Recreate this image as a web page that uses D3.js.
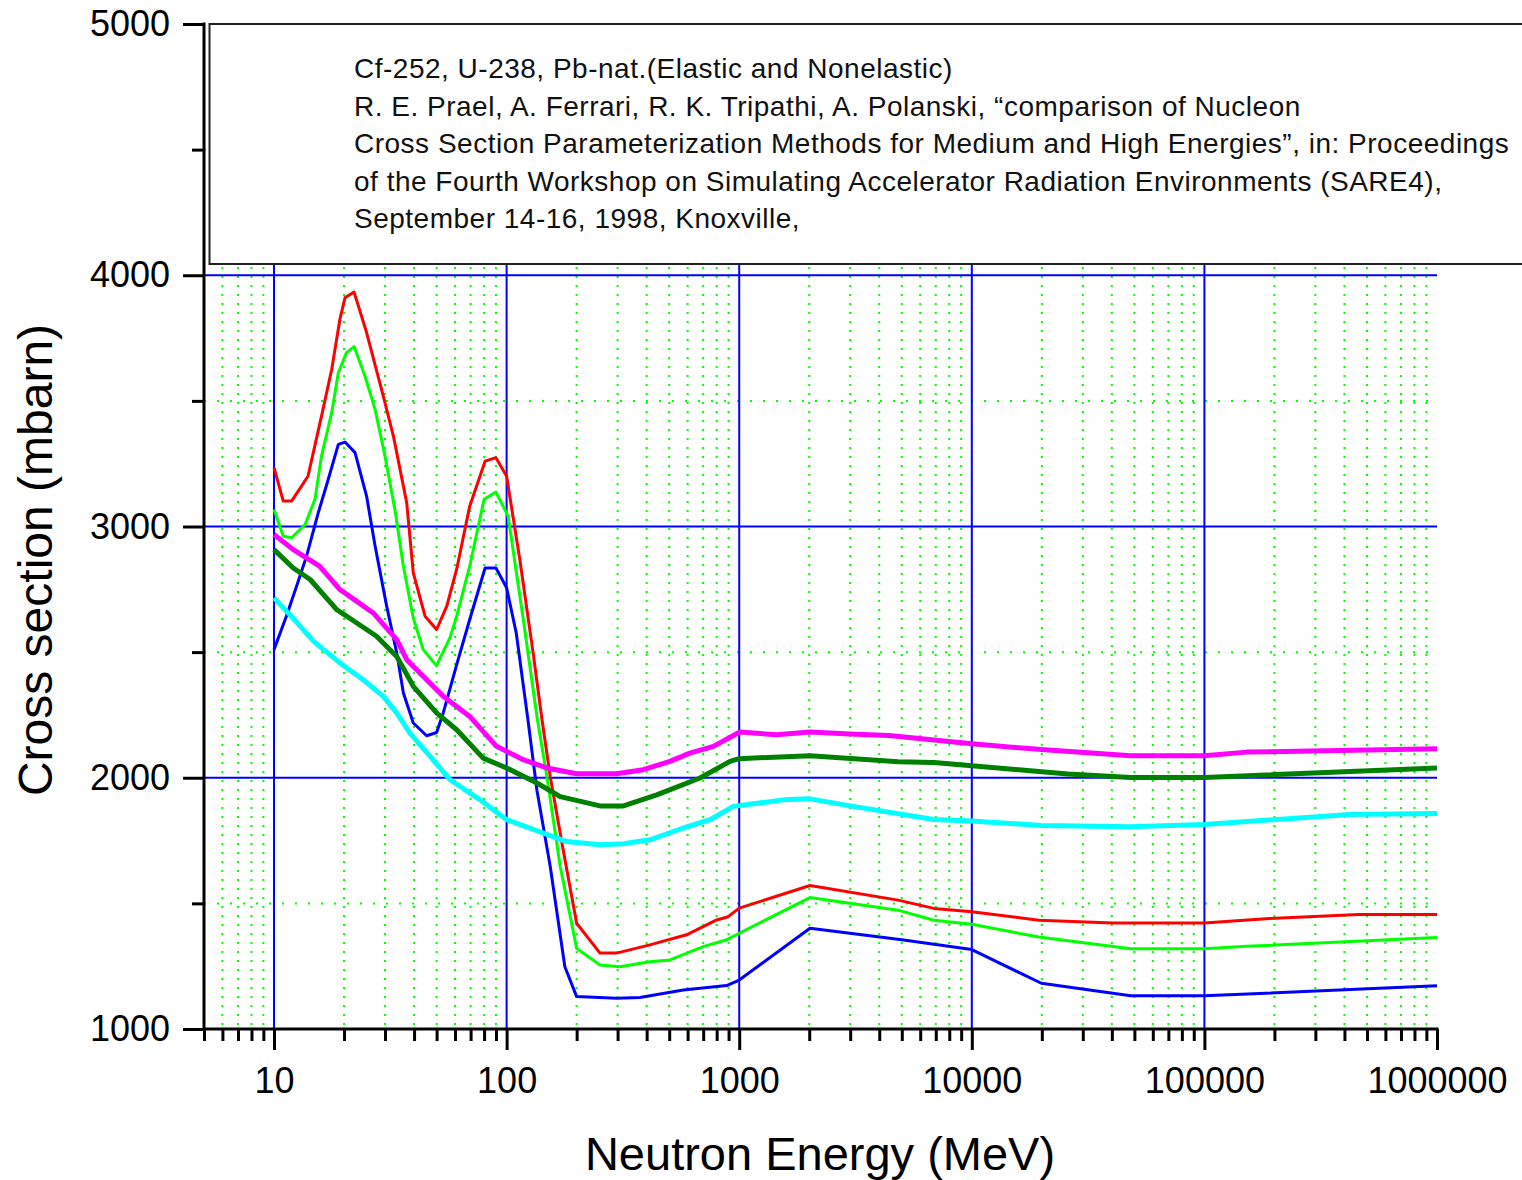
<!DOCTYPE html>
<html>
<head>
<meta charset="utf-8">
<script src="https://cdn.jsdelivr.net/npm/d3@7"></script>
<style>
    body { margin: 0; background: #fff; }
    svg { display: block; font-family: "Liberation Sans", Arial, sans-serif; }
</style>
</head>
<body>
<svg id="chart" width="1522" height="1180"></svg>
<script>
// [energy MeV, cross section mbarn]
const cf252Elastic = [[10, 3234], [10.96, 3101], [11.9, 3101], [14, 3200], [16, 3439], [17.7, 3625], [19.2, 3825], [20.2, 3911], [22.1, 3933], [25, 3772], [29.5, 3519], [32.6, 3360], [37.2, 3094], [39.7, 2815], [44.6, 2643], [50, 2590], [55.3, 2683], [61, 2830], [69.4, 3081], [80.8, 3260], [90, 3274], [100, 3200], [114, 2868], [130, 2497], [142, 2231], [154, 2005], [175, 1713], [200, 1421], [252, 1302], [297, 1302], [413, 1335], [594, 1375], [800, 1434], [897, 1447], [1000, 1481], [2015, 1571], [4820, 1513], [6870, 1480], [10000, 1467], [19400, 1433], [40400, 1422], [100000, 1422], [190000, 1440], [460000, 1456], [1000000, 1456]];
const u238Elastic = [[10, 3068], [10.96, 2961], [11.9, 2955], [13.6, 3008], [15, 3108], [16, 3280], [17.7, 3453], [18.9, 3612], [20.5, 3692], [22.1, 3716], [24.6, 3599], [27.2, 3466], [30, 3280], [33.1, 3068], [36, 2842], [39.7, 2635], [43.8, 2510], [50, 2446], [57.2, 2560], [61, 2643], [69.4, 2842], [80, 3108], [90, 3137], [101.5, 3041], [118, 2629], [135, 2244], [149, 2005], [170, 1647], [200, 1321], [252, 1255], [307, 1248], [413, 1268], [504, 1275], [701, 1328], [883, 1355], [1000, 1381], [2015, 1523], [4820, 1473], [6870, 1433], [10000, 1417], [19400, 1366], [48200, 1319], [100000, 1319], [152000, 1329], [1000000, 1364]];
const pbElastic = [[10, 2510], [11.3, 2643], [12.5, 2762], [13.8, 2882], [15.5, 3055], [17.1, 3187], [18.9, 3327], [20.2, 3336], [22.3, 3294], [25, 3121], [27.2, 2922], [30.5, 2683], [33.7, 2497], [36, 2337], [39.7, 2218], [45.3, 2167], [50, 2180], [53.4, 2258], [61, 2450], [69.4, 2630], [80.8, 2835], [90, 2835], [100, 2756], [110, 2576], [123.5, 2231], [135, 1950], [154, 1647], [178, 1248], [200, 1129], [297, 1122], [374, 1125], [575, 1155], [883, 1173], [1000, 1195], [2015, 1401], [5000, 1355], [10000, 1316], [19900, 1182], [48200, 1132], [100000, 1132], [1000000, 1172]];
const cf252Nonelastic = [[10, 2968], [12.1, 2908], [15.7, 2842], [19.2, 2749], [22.7, 2702], [26.7, 2656], [33.7, 2550], [37.2, 2470], [53.4, 2324], [69.4, 2244], [90.5, 2125], [118, 2072], [149, 2039], [200, 2016], [297, 2016], [387, 2032], [504, 2065], [614, 2098], [774, 2125], [1007, 2182], [1448, 2171], [2015, 2182], [2994, 2174], [4400, 2168], [10000, 2135], [19900, 2112], [48200, 2088], [100000, 2088], [152000, 2102], [1000000, 2115]];
const u238Nonelastic = [[10, 2908], [12.1, 2835], [14.3, 2789], [18.6, 2669], [22.7, 2616], [27.6, 2563], [33.7, 2483], [39.7, 2364], [50, 2258], [61, 2191], [79.3, 2078], [100, 2039], [135, 1979], [170, 1925], [252, 1888], [318, 1888], [442, 1932], [679, 1999], [913, 2065], [1000, 2076], [2015, 2088], [4820, 2064], [6870, 2061], [10000, 2048], [25900, 2015], [48200, 2001], [100000, 2001], [1000000, 2039]];
const pbNonelastic = [[10, 2716], [11.7, 2649], [14.8, 2543], [19.2, 2457], [24.2, 2390], [29.5, 2324], [33.7, 2258], [38.4, 2178], [46.9, 2085], [57.2, 1992], [76.9, 1912], [100, 1833], [144, 1780], [181, 1746], [252, 1733], [318, 1737], [413, 1753], [575, 1800], [749, 1833], [944, 1886], [1549, 1912], [2015, 1916], [2994, 1888], [6870, 1834], [10000, 1828], [19900, 1810], [48200, 1805], [100000, 1814], [422000, 1854], [1000000, 1858]];

const xMajorTicks = [10, 100, 1000, 10000, 100000, 1000000];
const yMajorTicks = [1000, 2000, 3000, 4000, 5000];
const yMinorTicks = [1500, 2500, 3500, 4500];

const noteLines = [
    "Cf-252, U-238, Pb-nat.(Elastic and Nonelastic)",
    "R. E. Prael, A. Ferrari, R. K. Tripathi, A. Polanski, \u201ccomparison of Nucleon",
    "Cross Section Parameterization Methods for Medium and High Energies\u201d, in: Proceedings",
    "of the Fourth Workshop on Simulating Accelerator Radiation Environments (SARE4),",
    "September 14-16, 1998, Knoxville,"
];

let series = [
    {data: cf252Elastic, color: "#ff0000", width: 3},
    {data: u238Elastic, color: "#00ff00", width: 3},
    {data: pbElastic, color: "#0000ff", width: 3},
    {data: cf252Nonelastic, color: "#ff00ff", width: 5},
    {data: u238Nonelastic, color: "#008000", width: 5},
    {data: pbNonelastic, color: "#00ffff", width: 5}
];

let plotLeft = 204, plotRight = 1437, plotTop = 24, plotBottom = 1029;

let x = d3.scaleLog().domain([5, 1e6]).range([plotLeft, plotRight]);
let y = d3.scaleLinear().domain([1000, 5000]).range([plotBottom, plotTop]);

// minor ticks: 2..9 times every decade inside the domain
let xMinorTicks = [];
for (let d = 1; d <= 1e5; d *= 10)
    for (let k = 2; k <= 9; k++)
        if (k * d >= 5) xMinorTicks.push(k * d);

let svg = d3.select("#chart");

// grid
let grid = svg.append("g");
grid.append("g").selectAll("line").data(xMinorTicks).join("line")
    .attr("x1", d => x(d)).attr("x2", d => x(d))
    .attr("y1", plotTop).attr("y2", plotBottom)
    .attr("stroke", "#00ff00").attr("stroke-width", 2).attr("stroke-dasharray", "2,7");
grid.append("g").selectAll("line").data(yMinorTicks).join("line")
    .attr("x1", plotLeft).attr("x2", plotRight)
    .attr("y1", d => y(d)).attr("y2", d => y(d))
    .attr("stroke", "#00ff00").attr("stroke-width", 2).attr("stroke-dasharray", "2,11");
grid.append("g").selectAll("line").data(xMajorTicks.slice(0, -1)).join("line")
    .attr("x1", d => x(d)).attr("x2", d => x(d))
    .attr("y1", plotTop).attr("y2", plotBottom)
    .attr("stroke", "#0000ff").attr("stroke-width", 2);
grid.append("g").selectAll("line").data(yMajorTicks.slice(1, -1)).join("line")
    .attr("x1", plotLeft).attr("x2", plotRight)
    .attr("y1", d => y(d)).attr("y2", d => y(d))
    .attr("stroke", "#0000ff").attr("stroke-width", 2);

// note box
svg.append("rect")
    .attr("x", 209.5).attr("y", 24).attr("width", 1340).attr("height", 240)
    .attr("fill", "#fff").attr("stroke", "#222").attr("stroke-width", 2);
svg.append("g").selectAll("text").data(noteLines).join("text")
    .attr("x", 354)
    .attr("y", (d, i) => 78 + i * 37.5)
    .style("font-size", "28px")
    .style("letter-spacing", "0.5px")
    .attr("fill", "#111")
    .text(d => d);

// curves
let line = d3.line().x(d => x(d[0])).y(d => y(d[1]));
svg.append("g").selectAll("path").data(series).join("path")
    .attr("d", d => line(d.data))
    .attr("fill", "none")
    .attr("stroke", d => d.color)
    .attr("stroke-width", d => d.width)
    .attr("stroke-linejoin", "round");

// axes
function styleAxis(g)
{
    g.select(".domain").remove();
    g.selectAll(".tick line").attr("stroke", "#000").attr("stroke-width", 3);
    g.selectAll(".tick text").attr("fill", "#000").style("font-size", "36px").style("font-family", "'Liberation Sans', Arial, sans-serif");
}

svg.append("g").attr("transform", `translate(0,${plotBottom})`)
    .call(d3.axisBottom(x).tickValues(xMinorTicks).tickSize(12).tickFormat(""))
    .call(styleAxis);
svg.append("g").attr("transform", `translate(0,${plotBottom})`)
    .call(d3.axisBottom(x).tickValues(xMajorTicks).tickSize(21).tickPadding(17).tickFormat(d3.format("d")))
    .call(styleAxis);
svg.append("g").attr("transform", `translate(${plotLeft},0)`)
    .call(d3.axisLeft(y).tickValues(yMinorTicks).tickSize(12).tickFormat(""))
    .call(styleAxis);
svg.append("g").attr("transform", `translate(${plotLeft},0)`)
    .call(d3.axisLeft(y).tickValues(yMajorTicks).tickSize(21).tickPadding(13).tickFormat(d3.format("d")))
    .call(styleAxis);

svg.append("line").attr("x1", plotLeft).attr("x2", plotRight + 1.5).attr("y1", plotBottom).attr("y2", plotBottom)
    .attr("stroke", "#000").attr("stroke-width", 3);
svg.append("line").attr("x1", plotLeft).attr("x2", plotLeft).attr("y1", plotTop - 1.5).attr("y2", plotBottom + 1.5)
    .attr("stroke", "#000").attr("stroke-width", 3);

// titles
svg.append("text")
    .attr("x", 820).attr("y", 1170)
    .attr("text-anchor", "middle")
    .style("font-size", "47px")
    .text("Neutron Energy (MeV)");
svg.append("text")
    .attr("transform", "translate(52,560) rotate(-90)")
    .attr("text-anchor", "middle")
    .style("font-size", "48px")
    .text("Cross section (mbarn)");
</script>
</body>
</html>
